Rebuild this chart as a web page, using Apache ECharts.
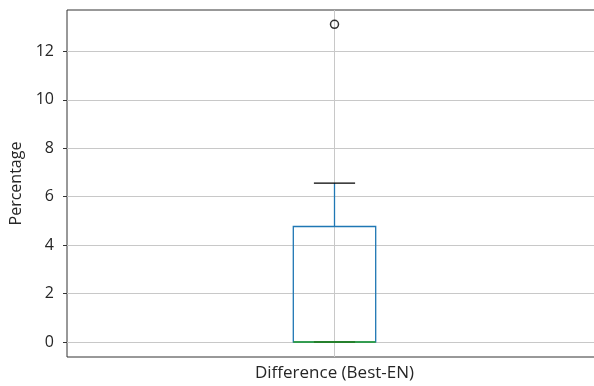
<!DOCTYPE html>
<html>
<head>
<meta charset="utf-8">
<script src="https://cdn.jsdelivr.net/npm/echarts@6/dist/echarts.min.js"></script>
<style>
  html, body { margin: 0; padding: 0; background: #fff; }
  #chart { width: 594px; height: 386px; }
</style>
</head>
<body>
<div id="chart"></div>
<script>
// 数据
const categories = ['Difference (Best-EN)'];
const boxStats = [[0, 0, 0, 4.77, 6.56]]; // 下须, Q1, 中位数, Q3, 上须
const outliers = [[0, 13.12]];
const yTicks = [0, 2, 4, 6, 8, 10, 12];

const chart = echarts.init(document.getElementById('chart'));

chart.setOption({
    animation: false,
    textStyle: { fontFamily: 'Open Sans' },
    grid: {// 右边框在画面之外
        left: 67, top: 10, bottom: 29, width: 535,
        outerBoundsMode: 'none',
        show: true,
        borderColor: '#333',
        borderWidth: 1
    },
    xAxis: {
        type: 'category',
        data: categories,
        axisLine: { show: false },
        axisTick: { show: true, alignWithLabel: true, length: 4, lineStyle: { color: '#333' } },
        axisLabel: { color: '#262626', fontSize: 17, margin: 8 },
        splitLine: { show: false }
    },
    yAxis: {
        type: 'value',
        min: -0.62,
        max: 13.71,
        name: 'Percentage',
        nameLocation: 'middle',
        nameGap: 38,
        nameTextStyle: { color: '#262626', fontSize: 16 },
        axisLine: { show: false },
        axisTick: { show: true, length: 4, customValues: yTicks, lineStyle: { color: '#333' } },
        axisLabel: { color: '#262626', fontSize: 16, margin: 13, customValues: yTicks },
        splitLine: { show: true, lineStyle: { color: '#c8c8c8', width: 1 } }
    },
    series: [{
        type: 'custom',
        data: boxStats.map((s, i) => [i].concat(s)),
        encode: { x: 0, y: [1, 2, 3, 4, 5] },
        renderItem: function (params, api) {
            const cs = params.coordSys;
            const x = api.value(0);
            const low = api.coord([x, api.value(1)]);
            const q1 = api.coord([x, api.value(2)]);
            const med = api.coord([x, api.value(3)]);
            const q3 = api.coord([x, api.value(4)]);
            const high = api.coord([x, api.value(5)]);
            const band = api.size([1, 0])[0];
            const bw = band * 0.154; // 箱宽
            const cw = bw / 2;       // 须端宽
            const cx = q1[0];
            const blue = { stroke: '#1f77b4', lineWidth: 1.3, fill: null };
            const black = { stroke: '#000', lineWidth: 1.3 };
            return {
                type: 'group',
                children: [
                    // 竖直网格线
                    { type: 'line', shape: { x1: cx, y1: cs.y, x2: cx, y2: cs.y + cs.height }, style: { stroke: '#c8c8c8', lineWidth: 1 } },
                    { type: 'line', shape: { x1: cx, y1: q3[1], x2: cx, y2: high[1] }, style: blue },
                    { type: 'line', shape: { x1: cx, y1: low[1], x2: cx, y2: q1[1] }, style: blue },
                    { type: 'rect', shape: { x: cx - bw / 2, y: q3[1], width: bw, height: q1[1] - q3[1] }, style: blue },
                    { type: 'line', shape: { x1: cx - cw / 2, y1: high[1], x2: cx + cw / 2, y2: high[1] }, style: black },
                    { type: 'line', shape: { x1: cx - cw / 2, y1: low[1], x2: cx + cw / 2, y2: low[1] }, style: black },
                    { type: 'line', shape: { x1: cx - bw / 2, y1: med[1], x2: cx + bw / 2, y2: med[1] }, style: { stroke: '#2ca02c', lineWidth: 1.3 } }
                ]
            };
        },
        z: 3
    }, {
        type: 'scatter',
        data: outliers,
        symbol: 'circle',
        symbolSize: 8,
        itemStyle: { color: 'transparent', borderColor: '#000', borderWidth: 1.5 },
        z: 4
    }]
});
</script>
</body>
</html>
